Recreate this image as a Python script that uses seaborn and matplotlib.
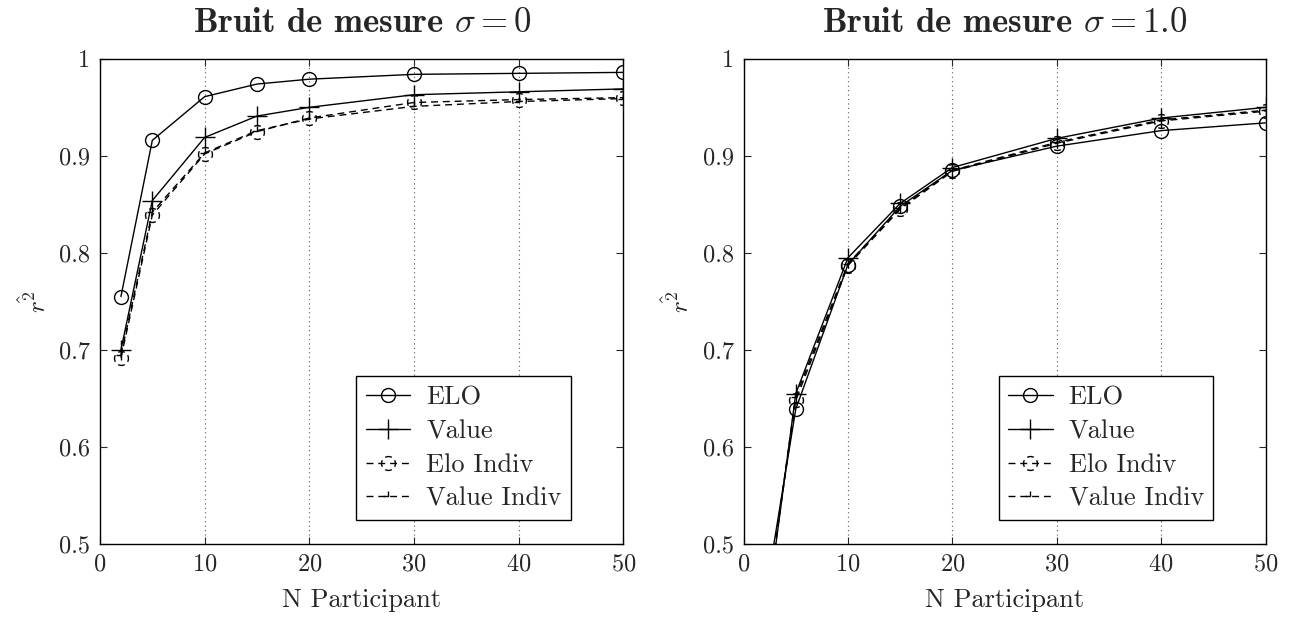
import numpy as np
import pandas as pd
import seaborn as sns
import matplotlib
matplotlib.use("Agg")
import matplotlib.pyplot as plt
from matplotlib.path import Path
from matplotlib.ticker import FuncFormatter

n_participant = [2, 5, 10, 15, 20, 30, 40, 50]

# bruit sigma = 0
elo_s0 = [0.755, 0.916, 0.961, 0.974, 0.979, 0.984, 0.985, 0.986]
value_s0 = [0.700, 0.854, 0.919, 0.941, 0.950, 0.963, 0.966, 0.969]
elo_indiv_s0 = [0.692, 0.839, 0.902, 0.925, 0.939, 0.955, 0.958, 0.960]
value_indiv_s0 = [0.695, 0.842, 0.903, 0.926, 0.938, 0.951, 0.956, 0.959]

# bruit sigma = 1.0
elo_s1 = [0.44, 0.639, 0.788, 0.848, 0.885, 0.910, 0.926, 0.934]
value_s1 = [0.41, 0.655, 0.795, 0.851, 0.888, 0.918, 0.939, 0.950]
elo_indiv_s1 = [0.42, 0.648, 0.787, 0.845, 0.884, 0.913, 0.936, 0.946]
value_indiv_s1 = [0.42, 0.652, 0.789, 0.846, 0.885, 0.914, 0.937, 0.947]

titles = [r"Bruit de mesure $\sigma = 0$", r"Bruit de mesure $\sigma = 1.0$"]
labels = ["ELO", "Value", "Elo Indiv", "Value Indiv"]

sns.set_style("ticks")
plt.rcParams["font.family"] = ["cmr10", "DejaVu Serif"]
plt.rcParams["mathtext.fontset"] = "cm"
plt.rcParams["axes.formatter.use_mathtext"] = True
plt.rcParams["axes.unicode_minus"] = False

# dashed circle and "half plus" markers, like pgfplots dashed marks
arcs = [Path.arc(a - 28, a + 28) for a in (0, 90, 180, 270)]
dashed_circle = Path.make_compound_path(*arcs)
half_plus = Path([(-1, 0), (0, 0), (0, 1)], [Path.MOVETO, Path.LINETO, Path.LINETO])

styles = [
    dict(marker="o", linestyle="-", markersize=10),
    dict(marker="+", linestyle="-", markersize=14),
    dict(marker=dashed_circle, linestyle=(0, (5, 3.5)), markersize=10),
    dict(marker=half_plus, linestyle=(0, (5, 3.5)), markersize=7),
]

fig = plt.figure(figsize=(12.92, 6.19), dpi=100)
ax1 = fig.add_axes([0.0774, 0.121, 0.405, 0.784])
ax2 = fig.add_axes([0.5755, 0.121, 0.404, 0.784])

panels = [
    (ax1, [elo_s0, value_s0, elo_indiv_s0, value_indiv_s0]),
    (ax2, [elo_s1, value_s1, elo_indiv_s1, value_indiv_s1]),
]

for i, (ax, series) in enumerate(panels):
    for lab, vals, st in zip(labels, series, styles):
        df = pd.DataFrame({"N": n_participant, "r2": vals})
        sns.lineplot(data=df, x="N", y="r2", ax=ax, color="black", linewidth=1.0,
                     markerfacecolor="none", markeredgecolor="black",
                     markeredgewidth=1.0, label=lab, **st)
    ax.set_xlim(0, 50)
    ax.set_ylim(0.5, 1.0)
    ax.set_xticks([0, 10, 20, 30, 40, 50])
    ax.set_yticks([0.5, 0.6, 0.7, 0.8, 0.9, 1.0])
    ax.yaxis.set_major_formatter(FuncFormatter(lambda v, p: "%g" % round(v, 2)))
    ax.grid(axis="x", linestyle=(0, (1, 3)), color="0.35", linewidth=0.8)
    ax.tick_params(direction="in", top=True, right=True, length=5, width=0.8,
                   labelsize=17.5, pad=7)
    for sp in ax.spines.values():
        sp.set_visible(True)
        sp.set_linewidth(1.0)
        sp.set_color("black")
    ax.set_xlabel("N Participant", fontsize=19, labelpad=9)
    ax.set_ylabel(r"$\hat{r^2}$", fontsize=18, labelpad=6)
    ax.set_title(titles[i], fontsize=25, family="cmb10", pad=19)
    leg = ax.legend(loc="lower right", bbox_to_anchor=(0.90, 0.05), fontsize=19,
                    frameon=True, fancybox=False, edgecolor="black",
                    borderaxespad=0.0, handlelength=1.7, borderpad=0.35,
                    labelspacing=0.38, handletextpad=0.6)
    leg.get_frame().set_linewidth(1.0)
    leg.get_frame().set_alpha(1.0)

fig.savefig("out.png", dpi=100)
